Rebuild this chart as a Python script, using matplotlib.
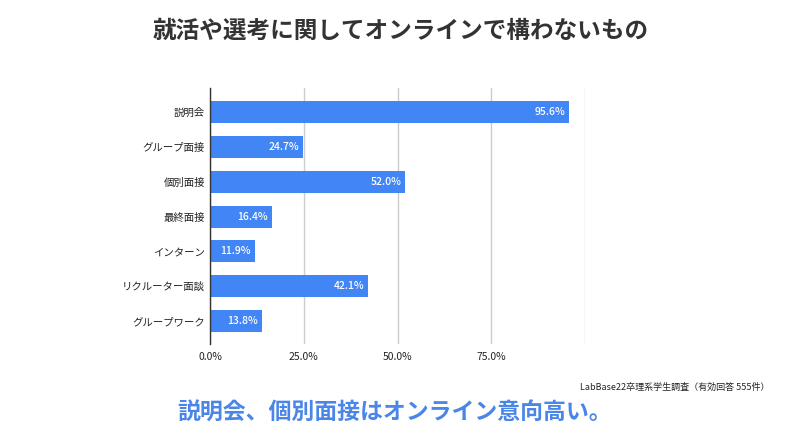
import matplotlib.pyplot as plt
from matplotlib.ticker import FuncFormatter

plt.rcParams['font.family'] = ['Noto Sans CJK JP', 'DejaVu Sans']

# data
categories = ['説明会', 'グループ面接', '個別面接', '最終面接', 'インターン', 'リクルーター面談', 'グループワーク']
values = [95.6, 24.7, 52.0, 16.4, 11.9, 42.1, 13.8]
xticks = [0, 25, 50, 75, 100]

title = '就活や選考に関してオンラインで構わないもの'
source = 'LabBase22卒理系学生調査（有効回答 555件）'
comment = '説明会、個別面接はオンライン意向高い。'

bar_color = '#4285F4'

fig = plt.figure(figsize=(8, 4.45), dpi=100)
ax = fig.add_axes([0.2625, 0.227, 0.469, 0.575])

y = list(range(len(categories)))
ax.barh(y, values, height=0.63, color=bar_color, zorder=3)

for yi, v in zip(y, values):
    ax.text(v - 1.0, yi, f'{v:.1f}%', color='white', fontsize=7.5,
            fontweight='medium', ha='right', va='center', zorder=4)

ax.set_xlim(0, 100)
ax.set_ylim(6.66, -0.69)
ax.set_yticks(y)
ax.set_yticklabels(categories, fontsize=7.5, color='#222222')
ax.set_xticks(xticks)
ax.xaxis.set_major_formatter(FuncFormatter(lambda v, p: '' if v >= 100 else f'{v:.1f}%'))
ax.tick_params(axis='x', labelsize=7.5, labelcolor='#222222', length=0, pad=6)
ax.tick_params(axis='y', length=0, pad=3.5)

ax.grid(axis='x', color='#cccccc', linewidth=1, zorder=0)
for s in ['top', 'right', 'bottom']:
    ax.spines[s].set_visible(False)
ax.spines['left'].set_color('#333333')
ax.spines['left'].set_linewidth(1)
ax.spines['left'].set_zorder(5)

fig.text(0.501, 0.930, title, fontsize=17, fontweight='bold', color='#333333',
         ha='center', va='center')
fig.text(0.725, 0.130, source, fontsize=6.5, color='#222222', ha='left', va='center')
fig.text(0.493, 0.074, comment, fontsize=16.5, fontweight='bold', color='#4a86e8',
         ha='center', va='center')

fig.savefig('out.png', dpi=100)
